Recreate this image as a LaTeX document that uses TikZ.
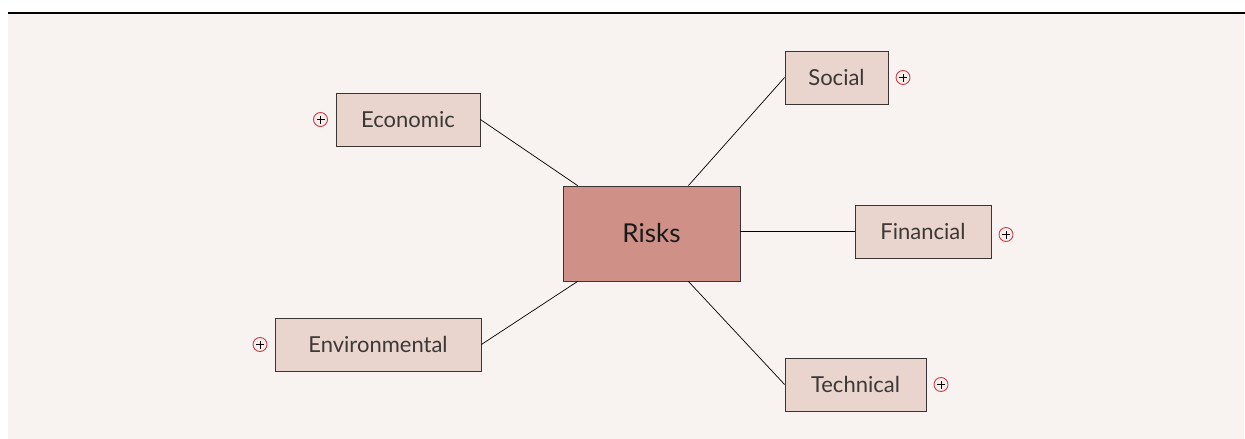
\documentclass[tikz,border=0pt]{standalone}
\usepackage{fontspec}
\setmainfont{Lato}
\definecolor{bgc}{HTML}{F8F3F0}
\definecolor{boxc}{HTML}{EAD4CE}
\definecolor{mainc}{HTML}{CF9087}
\definecolor{edgec}{HTML}{3A3533}
\definecolor{plusc}{HTML}{C8404A}
\definecolor{txtc}{HTML}{3C3836}
\begin{document}
\begin{tikzpicture}[x=1pt,y=-1pt,
  topic/.style={draw=edgec, line width=0.8pt, fill=boxc, text=txtc, inner sep=0pt, font=\fontsize{22}{24}\selectfont},
  central/.style={draw=edgec, line width=0.8pt, fill=mainc, text=black!90, inner sep=0pt, font=\fontsize{26}{28}\selectfont},
  link/.style={draw=black, line width=0.7pt},
  plus/.style={circle, draw=plusc, fill=white!60!boxc, line width=0.9pt, minimum size=14pt, inner sep=0pt}]
\useasboundingbox (0,0) rectangle (1245,439);
\fill[white] (0,0) rectangle (1245,439);
\fill[bgc] (8,13) rectangle (1244,439);
\draw[line width=1.2pt, black] (8,13) -- (1245,13);

\node[central, minimum width=177pt, minimum height=95pt] (risks) at (651.5,233.5) {Risks};
\node[topic, minimum width=144pt, minimum height=53pt] (eco) at (408,119.5) {Economic};
\node[topic, minimum width=103pt, minimum height=53pt] (soc) at (836.5,77.5) {Social};
\node[topic, minimum width=136pt, minimum height=53pt] (fin) at (923,231.5) {Financial};
\node[topic, minimum width=206pt, minimum height=53pt] (env) at (378,344.5) {Environmental};
\node[topic, minimum width=141pt, minimum height=53pt] (tec) at (855.5,384.5) {Technical};

\coordinate (rtl) at ([xshift=15pt]risks.north west);
\coordinate (rtr) at ([xshift=-52pt]risks.north east);
\coordinate (rbl) at ([xshift=15pt]risks.south west);
\coordinate (rbr) at ([xshift=-52pt]risks.south east);

\draw[link] (eco.east) -- (rtl);
\draw[link] (soc.west) -- (rtr);
\draw[link] (fin.west) -- (risks.east |- fin.west);
\draw[link] (env.east) -- (rbl);
\draw[link] (tec.west) -- (rbr);

\foreach \n/\p in {pe/{(320.5,119.5)}, ps/{(903,77.5)}, pf/{(1006,234.5)}, pv/{(260,344.5)}, pt/{(941,384.5)}}{
  \node[plus] (\n) at \p {};
  \draw[black, line width=0.8pt] ([xshift=-4pt]\n.center) -- ([xshift=4pt]\n.center)
        ([yshift=-4pt]\n.center) -- ([yshift=4pt]\n.center);
}
\end{tikzpicture}
\end{document}
